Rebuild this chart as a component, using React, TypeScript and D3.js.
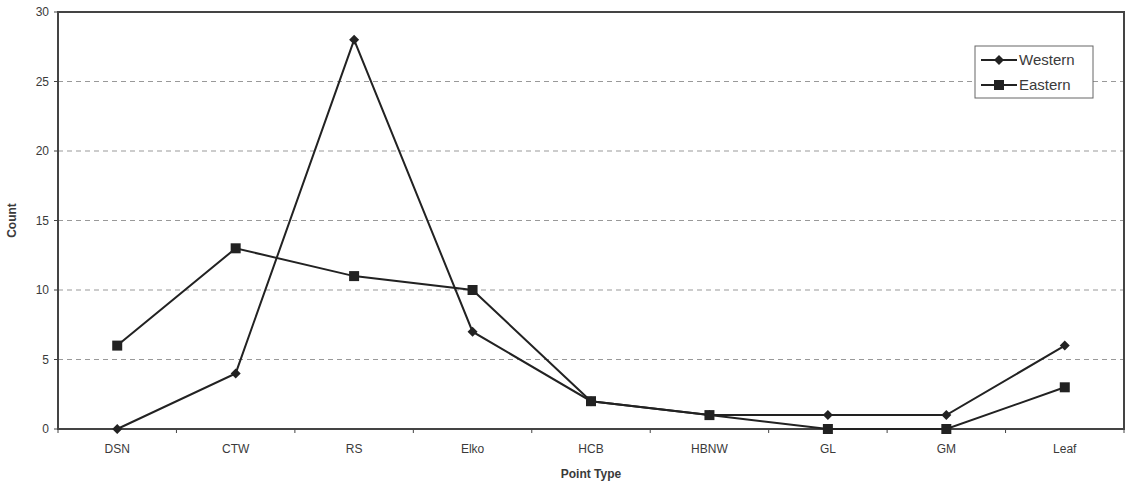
import React from "react";
import * as d3 from "d3";

const categories = ["DSN", "CTW", "RS", "Elko", "HCB", "HBNW", "GL", "GM", "Leaf"];
const western = [0, 4, 28, 7, 2, 1, 1, 1, 6];
const eastern = [6, 13, 11, 10, 2, 1, 0, 0, 3];
const yTicks = [0, 5, 10, 15, 20, 25, 30];

const W = 1130, H = 486;
const left = 58, right = 1124, top = 12, bottom = 429;
const font = "Liberation Sans, Arial, sans-serif";
const ink = "#222";
const textCol = "#3a3a3a";

function Diamond({ x, y }: { x: number; y: number }) {
  const r = 5;
  return <path d={`M${x},${y - r}L${x + r},${y}L${x},${y + r}L${x - r},${y}Z`} fill={ink} />;
}
function Square({ x, y }: { x: number; y: number }) {
  const s = 10;
  return <rect x={x - s / 2} y={y - s / 2} width={s} height={s} fill={ink} />;
}

export default function App() {
  const xb = d3.scaleBand<string>().domain(categories).range([left, right]);
  const xc = (c: string) => (xb(c) as number) + xb.bandwidth() / 2;
  const y = d3.scaleLinear().domain([0, 30]).range([bottom, top]);
  const line = d3.line<number>().x((_, i) => xc(categories[i])).y((d) => y(d));

  return (
    <svg width={W} height={H} style={{ position: "absolute", left: 0, top: 0, background: "#fff" }}>
      {yTicks.filter((t) => t > 0 && t < 30).map((t) => (
        <line key={t} x1={left} x2={right} y1={y(t)} y2={y(t)} stroke="#999" strokeWidth={1} strokeDasharray="5,4" />
      ))}
      <rect x={left} y={top} width={right - left} height={bottom - top} fill="none" stroke="#444" strokeWidth={2} />
      {yTicks.map((t) => (
        <g key={t}>
          <line x1={left - 4} x2={left} y1={y(t)} y2={y(t)} stroke="#444" />
          <text x={left - 9} y={y(t) + 4} textAnchor="end" fontFamily={font} fontSize={12} fill={textCol}>{t}</text>
        </g>
      ))}
      {categories.map((c, i) => (
        <g key={c}>
          <line x1={xb(c) as number} x2={xb(c) as number} y1={bottom} y2={bottom + 4} stroke="#444" />
          {i === categories.length - 1 && (
            <line x1={right} x2={right} y1={bottom} y2={bottom + 4} stroke="#444" />
          )}
          <text x={xc(c)} y={bottom + 24} textAnchor="middle" fontFamily={font} fontSize={12} fill={textCol}>{c}</text>
        </g>
      ))}
      <text x={(left + right) / 2 + 0} y={478} textAnchor="middle" fontFamily={font} fontSize={12} fontWeight="bold" fill={textCol}>Point Type</text>
      <text transform={`translate(16,${(top + bottom) / 2}) rotate(-90)`} textAnchor="middle" fontFamily={font} fontSize={12} fontWeight="bold" fill={textCol}>Count</text>

      <path d={line(western) as string} fill="none" stroke={ink} strokeWidth={2} />
      <path d={line(eastern) as string} fill="none" stroke={ink} strokeWidth={2} />
      {western.map((v, i) => <Diamond key={"w" + i} x={xc(categories[i])} y={y(v)} />)}
      {eastern.map((v, i) => <Square key={"e" + i} x={xc(categories[i])} y={y(v)} />)}

      <g>
        <rect x={975} y={46} width={118} height={52} fill="#fff" stroke="#666" strokeWidth={1} />
        <line x1={981} x2={1017} y1={60} y2={60} stroke={ink} strokeWidth={2} />
        <Diamond x={999} y={60} />
        <text x={1019} y={65} fontFamily={font} fontSize={15} fill={textCol}>Western</text>
        <line x1={981} x2={1017} y1={85} y2={85} stroke={ink} strokeWidth={2} />
        <Square x={999} y={85} />
        <text x={1019} y={90} fontFamily={font} fontSize={15} fill={textCol}>Eastern</text>
      </g>
    </svg>
  );
}
